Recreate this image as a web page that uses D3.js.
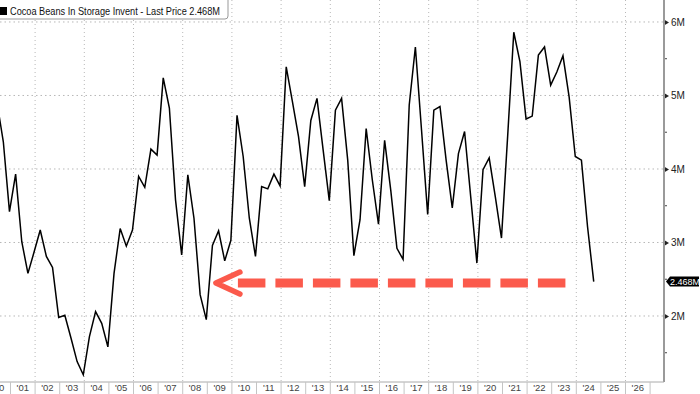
<!DOCTYPE html>
<html>
<head>
<meta charset="utf-8">
<script src="https://cdn.jsdelivr.net/npm/d3@7"></script>
<style>
	body { margin: 0; background: #fff; }
	svg { display: block; font-family: 'Liberation Sans', Arial, sans-serif; }
</style>
</head>
<body>
<svg id="chart"></svg>
<script>
// quarterly readings, first one is Jun 2000, in millions of bags
const startYear = 2000,
	startMonth = 5;
const inventory = [
	4.89, 4.37, 3.42, 3.93, 3.01, 2.58, 2.87, 3.17, 2.81, 2.66, 1.98, 2.01, 1.7, 1.38, 1.2, 1.72, 2.06, 1.9, 1.58, 2.58,
	3.19, 2.95, 3.17, 3.9, 3.75, 4.27, 4.19, 5.24, 4.83, 3.58, 2.83, 3.92, 3.33, 2.29, 1.95, 2.96, 3.16, 2.75, 3.03, 4.73,
	4.17, 3.33, 2.81, 3.76, 3.73, 3.93, 3.77, 5.39, 4.92, 4.44, 3.76, 4.66, 4.96, 4.26, 3.57, 4.8, 4.96, 4.12, 2.82, 3.31,
	4.55, 3.85, 3.25, 4.39, 3.71, 2.92, 2.77, 4.87, 5.66, 4.53, 3.38, 4.8, 4.85, 4.12, 3.47, 4.21, 4.51, 3.62, 2.72, 3.99,
	4.15, 3.62, 3.06, 4.44, 5.86, 5.46, 4.68, 4.72, 5.55, 5.66, 5.14, 5.32, 5.54, 4.98, 4.17, 4.12, 3.21, 2.468
];
const yearLabels = [ "'00", "'01", "'02", "'03", "'04", "'05", "'06", "'07", "'08", "'09", "'10", "'11", "'12", "'13",
	"'14", "'15", "'16", "'17", "'18", "'19", "'20", "'21", "'22", "'23", "'24", "'25", "'26" ];
const yTicks = [ 2, 3, 4, 5, 6 ];
const yMinorTicks = [ 1.5, 2.5, 3.5, 4.5, 5.5 ];
const lastValue = 2.468;
const title = 'Cocoa Beans In Storage Invent - Last Price 2.468M';
// red arrow pointing back to the 2009 level
const arrowFrom = 2023.74,
	arrowTo = 2009.35;

const width = 700,
	height = 394,
	plotW = 664,
	plotH = 382;

const svg = d3.select('#chart').attr('width', width).attr('height', height);

const xScale = d3.scaleLinear().domain([ 2000.573, 2027.565 ]).range([ 0, plotW ]);
const yScale = d3.scaleLinear().domain([ 1.102, 6.299 ]).range([ plotH, 0 ]);

const data = inventory.map((v, i) => ({ t: startYear + (startMonth + 3 * i + 0.5) / 12, v: v }));

svg.append('defs').append('clipPath').attr('id', 'clip').append('rect').attr('width', plotW).attr('height', plotH);

// grid
svg
	.append('g')
	.selectAll('line')
	.data(d3.range(2002, 2027, 2))
	.enter()
	.append('line')
	.attr('x1', (d) => xScale(d))
	.attr('x2', (d) => xScale(d))
	.attr('y1', 0)
	.attr('y2', plotH)
	.attr('stroke', '#b8b8b8')
	.attr('stroke-dasharray', '1,3');
svg
	.append('g')
	.selectAll('line')
	.data(yTicks)
	.enter()
	.append('line')
	.attr('x1', 0)
	.attr('x2', plotW)
	.attr('y1', (d) => yScale(d))
	.attr('y2', (d) => yScale(d))
	.attr('stroke', '#b8b8b8')
	.attr('stroke-dasharray', '1.5,3');

// series
const line = d3.line().x((d) => xScale(d.t)).y((d) => yScale(d.v));
svg
	.append('path')
	.datum(data)
	.attr('clip-path', 'url(#clip)')
	.attr('d', line)
	.attr('fill', 'none')
	.attr('stroke', '#000')
	.attr('stroke-width', 1.5)
	.attr('stroke-linejoin', 'miter');

// arrow annotation
const ay = yScale(lastValue);
svg
	.append('line')
	.attr('x1', xScale(arrowTo) + 22)
	.attr('x2', xScale(arrowFrom))
	.attr('y1', ay + 1.5)
	.attr('y2', ay + 1.5)
	.attr('stroke', '#fb5a4c')
	.attr('stroke-width', 9)
	.attr('stroke-dasharray', '27.5,10');
svg
	.append('path')
	.attr('d', d3.line()([ [ xScale(arrowTo) + 24, ay - 9.5 ], [ xScale(arrowTo), ay + 1.5 ], [ xScale(arrowTo) + 24, ay + 12.5 ] ]))
	.attr('fill', 'none')
	.attr('stroke', '#fb5a4c')
	.attr('stroke-width', 5.5)
	.attr('stroke-linecap', 'round')
	.attr('stroke-linejoin', 'round');

// right axis
const yAxis = d3.axisRight(yScale).tickValues(yTicks).tickSize(0).tickPadding(7).tickFormat((d) => d + 'M');
const yg = svg.append('g').attr('transform', 'translate(' + plotW + ',0)').call(yAxis);
yg.select('.domain').remove();
yg.selectAll('text').attr('font-size', 10).attr('fill', '#222').attr('font-family', 'Liberation Sans, Arial, sans-serif');
yg
	.selectAll('.tick')
	.append('path')
	.attr('d', 'M0,-3L5,0L0,3Z')
	.attr('fill', '#222');
svg
	.append('g')
	.selectAll('line')
	.data(yMinorTicks)
	.enter()
	.append('line')
	.attr('x1', plotW)
	.attr('x2', plotW + 3)
	.attr('y1', (d) => yScale(d))
	.attr('y2', (d) => yScale(d))
	.attr('stroke', '#444');
svg.append('line').attr('x1', plotW).attr('x2', plotW).attr('y1', 0).attr('y2', plotH).attr('stroke', '#9a9a9a').attr('stroke-width', 2);

// bottom axis: one cell per year
svg.append('line').attr('x1', 0).attr('x2', plotW).attr('y1', plotH).attr('y2', plotH).attr('stroke', '#aaa');
const xg = svg.append('g');
xg
	.selectAll('line')
	.data(d3.range(2001, 2028))
	.enter()
	.append('line')
	.attr('x1', (d) => xScale(d))
	.attr('x2', (d) => xScale(d))
	.attr('y1', plotH)
	.attr('y2', height)
	.attr('stroke', '#c4c4c4');
xg
	.selectAll('text')
	.data(yearLabels)
	.enter()
	.append('text')
	.attr('x', (d, i) => xScale(2000 + i + 0.5))
	.attr('y', height - 3)
	.attr('text-anchor', 'middle')
	.attr('font-size', 9.5)
	.attr('fill', '#444')
	.text((d) => d);

// last value tag
const tag = svg.append('g').attr('transform', 'translate(' + (plotW + 2) + ',' + ay + ')');
tag.append('path').attr('d', 'M0,0L4,-5H33V5H4Z').attr('fill', '#000');
tag
	.append('text')
	.attr('x', 19)
	.attr('y', 3.3)
	.attr('text-anchor', 'middle')
	.attr('font-size', 9)
	.attr('fill', '#fff')
	.text('2.468M');

// legend box
svg
	.append('path')
	.attr('d', 'M-1,-1H228V16Q228,19 225,19H-1Z')
	.attr('fill', '#fff')
	.attr('stroke', '#999');
svg.append('rect').attr('x', 0).attr('y', 7).attr('width', 7).attr('height', 8).attr('fill', '#000');
svg
	.append('text')
	.attr('x', 10)
	.attr('y', 15)
	.attr('font-size', 11)
	.attr('fill', '#111')
	.attr('textLength', 210)
	.attr('lengthAdjust', 'spacingAndGlyphs')
	.text(title);
</script>
</body>
</html>
